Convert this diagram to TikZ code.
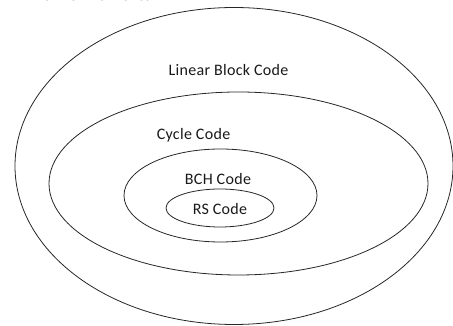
\documentclass[tikz,border=0pt]{standalone}
\usepackage{fontspec}
\setmainfont{Carlito}
\newfontfamily\lblfont[LetterSpace=2]{Carlito}
\newfontfamily\serifbody{Liberation Serif}
\usetikzlibrary{shapes.geometric}
\begin{document}
\begin{tikzpicture}[x=1pt,y=1pt,
  setbox/.style={ellipse,draw=black!85,line width=0.8pt,inner sep=0pt},
  lbl/.style={font=\lblfont\fontsize{16}{18}\selectfont,inner sep=0pt,text=black!90,anchor=base}]
\useasboundingbox (0,0) rectangle (453,326);
\clip (0,0) rectangle (453,326);
\node[anchor=base east,font=\serifbody\bfseries\fontsize{18}{20}\selectfont,inner sep=0pt] (frag) at (150,325.5) {s from errors.};
\node[setbox,minimum width=438pt,minimum height=317pt] (lbc) at (234,160) {};
\node[setbox,minimum width=379pt,minimum height=183pt] (cyc) at (238.5,142.5) {};
\node[setbox,minimum width=193pt,minimum height=93pt] (bch) at (220.5,130.5) {};
\node[setbox,minimum width=108pt,minimum height=38pt] (rs) at (220,118) {};
\node[lbl] (tlbc) at (228.5,250) {Linear Block Code};
\node[lbl] (tcyc) at (193.5,186) {Cycle Code};
\node[lbl] (tbch) at (218,141) {BCH Code};
\node[lbl] (trs) at (220,111) {RS Code};
\end{tikzpicture}
\end{document}
